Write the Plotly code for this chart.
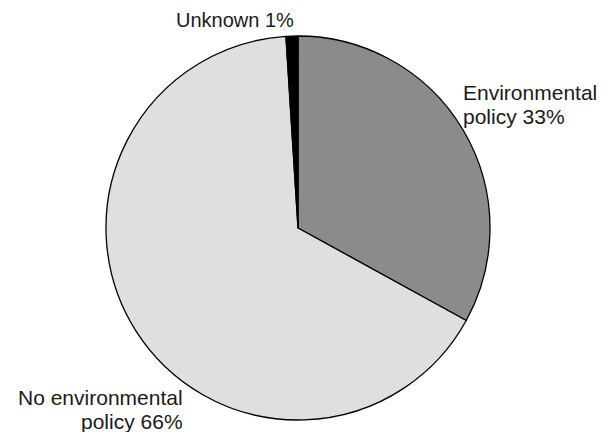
import plotly.graph_objects as go

W, H = 613, 432

# Share of firms by environmental policy status
categories = ["Environmental policy", "No environmental policy", "Unknown"]
shares = [33, 66, 1]
colors = ["#8b8b8b", "#dfdfdf", "#000000"]

fig = go.Figure(
    go.Pie(
        labels=categories,
        values=shares,
        sort=False,
        direction="clockwise",
        rotation=0,
        textinfo="none",
        hoverinfo="label+percent",
        marker=dict(colors=colors, line=dict(color="#000000", width=1.3)),
        domain=dict(x=[106 / W, 490 / W], y=[12 / H, 396 / H]),
        showlegend=False,
    )
)


def label(text, x, y, anchor, size=21):
    fig.add_annotation(
        text=text, x=x / W, y=1 - y / H, xref="paper", yref="paper",
        xanchor=anchor, yanchor="middle", showarrow=False,
        font=dict(family="Liberation Sans, Arial, sans-serif", size=size, color="#1a1a1a"),
    )


label(f"Unknown {shares[2]}%", 174, 20, "left", size=20)
label("Environmental", 461, 92, "left")
label(f"policy {shares[0]}%", 461, 116, "left")
label("No environmental", 185, 397, "right")
label(f"policy {shares[1]}%", 185, 421, "right")

fig.update_layout(
    width=W, height=H,
    margin=dict(l=0, r=0, t=0, b=0),
    paper_bgcolor="white", plot_bgcolor="white",
)

fig.write_html("out.html")
